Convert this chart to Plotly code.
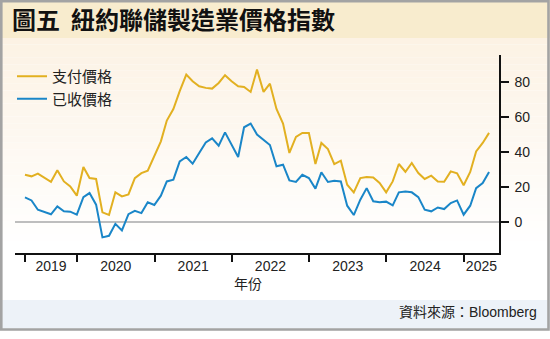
import pandas as pd
import plotly.graph_objects as go

# ---- data: NY Fed manufacturing survey, prices paid / prices received (monthly) ----
months = pd.date_range("2019-04-01", periods=73, freq="MS") + pd.offsets.MonthEnd(0)

prices_paid = [
    27.1, 26.2, 27.7, 25.6, 23.1, 29.6, 23.3, 20.5, 15.2,            # 2019 Apr-Dec
    31.5, 25.2, 24.7, 5.7, 4.2, 17.1, 14.8, 15.9, 25.2, 28.0, 29.4, 37.6,   # 2020
    46.1, 57.9, 64.5, 74.6, 84.1, 80.3, 77.4, 76.5, 76.1, 79.3, 83.7, 80.3, # 2021
    77.4, 77.0, 74.2, 86.9, 74.2, 78.9, 64.5, 56.2, 39.5, 48.6, 50.9, 50.9, # 2022
    33.2, 45.2, 41.7, 33.2, 35.1, 21.4, 17.1, 25.2, 25.8, 25.5, 22.4, 17.1, # 2023
    23.3, 33.2, 28.8, 33.8, 28.1, 24.7, 26.6, 23.3, 23.1, 29.0, 27.9, 21.1, # 2024
    28.7, 40.4, 45.2, 50.9,                                              # 2025 Jan-Apr
]
prices_received = [
    14.2, 12.5, 7.2, 6.1, 4.6, 9.1, 6.3, 6.1, 4.4,
    14.4, 16.7, 10.1, -8.5, -7.6, -0.8, -4.6, 4.7, 6.6, 5.3, 11.4, 9.9,
    15.2, 23.3, 24.3, 34.7, 37.2, 33.4, 39.5, 45.5, 47.8, 43.6, 51.2, 44.2,
    37.2, 54.1, 56.2, 50.0, 47.0, 44.0, 31.9, 32.8, 23.9, 23.0, 27.1, 25.2,
    19.2, 28.5, 23.0, 23.7, 23.3, 9.5, 4.2, 12.9, 19.5, 12.0, 11.4, 11.8,
    9.7, 17.1, 17.6, 17.1, 14.4, 7.2, 6.3, 8.5, 7.6, 11.0, 12.5, 4.4,
    9.5, 19.5, 22.4, 28.7,
]
year_labels = ["2019", "2020", "2021", "2022", "2023", "2024", "2025"]
y_ticks = [0, 20, 40, 60, 80]

series_names = ["支付價格", "已收價格"]
series_colors = ["#E2B021", "#1A86C8"]

# ---- page geometry (pixels) ----
W, H = 550, 339
L, R, T, B = 15, 51, 55, 86


def px_x(x):
    return (x - L) / (W - L - R)


def px_y(y):
    return (H - B - y) / (H - T - B)


x_start = pd.Timestamp("2019-03-14")
x_end = pd.Timestamp("2025-06-16")

# year boundaries get tick marks; year names sit in the middle of each visible span
bounds = [months[0]] + [pd.Timestamp(f"{y}-01-01") for y in range(2020, 2026)]
spans = bounds + [x_end]
label_pos = [spans[i] + (spans[i + 1] - spans[i]) / 2 for i in range(len(year_labels))]

fig = go.Figure()
for name, vals, col in zip(series_names, [prices_paid, prices_received], series_colors):
    fig.add_trace(go.Scatter(
        x=months, y=vals, name=name, mode="lines",
        line=dict(color=col, width=2),
    ))

shapes = []
# soft cream-to-white backdrop behind the plot
top_c, bot_c = (252, 242, 228), (255, 255, 255)
g0, g1, n = 38, 300, 40
for i in range(n):
    ya = g0 + (g1 - g0) * i / n
    yb = g0 + (g1 - g0) * (i + 1) / n
    t = min(1.0, (i + 0.5) / n * 1.25)
    c = tuple(round(top_c[k] + (bot_c[k] - top_c[k]) * t) for k in range(3))
    shapes.append(dict(type="rect", xref="paper", yref="paper", layer="below",
                       x0=px_x(0), x1=px_x(W), y0=px_y(yb), y1=px_y(ya),
                       fillcolor=f"rgb{c}", line=dict(width=0)))
# title band
shapes.append(dict(type="rect", xref="paper", yref="paper", layer="below",
                   x0=px_x(0), x1=px_x(W), y0=px_y(38), y1=px_y(0),
                   fillcolor="#F8ECCE", line=dict(width=0)))
# source strip
shapes.append(dict(type="rect", xref="paper", yref="paper", layer="below",
                   x0=px_x(0), x1=px_x(W), y0=px_y(328.5), y1=px_y(300),
                   fillcolor="#EDF2F8", line=dict(width=0)))
# frame
shapes.append(dict(type="rect", xref="paper", yref="paper", layer="above",
                   x0=px_x(1.3), x1=px_x(548.5), y0=px_y(329.5), y1=px_y(1.3),
                   line=dict(color="#A3A3A3", width=2.6)))

annotations = [
    dict(text="圖五  紐約聯儲製造業價格指數", xref="paper", yref="paper",
         x=px_x(10), y=px_y(18), xanchor="left", yanchor="middle", showarrow=False,
         font=dict(family="Noto Sans CJK TC", size=24, color="#111111", weight="bold")),
    dict(text="年份", xref="paper", yref="paper",
         x=px_x(248), y=px_y(283), xanchor="center", yanchor="middle", showarrow=False,
         font=dict(family="Noto Sans CJK TC", size=14, color="#222222")),
    dict(text="資料來源：Bloomberg", xref="paper", yref="paper",
         x=px_x(539), y=px_y(312), xanchor="right", yanchor="middle", showarrow=False,
         font=dict(family="Liberation Sans, Noto Sans CJK TC", size=14, color="#222222")),
]

fig.update_layout(
    width=W, height=H,
    margin=dict(l=L, r=R, t=T, b=B, pad=0),
    paper_bgcolor="white",
    plot_bgcolor="rgba(0,0,0,0)",
    font=dict(family="Liberation Sans, Noto Sans CJK TC", size=14, color="#222222"),
    shapes=shapes,
    annotations=annotations,
    showlegend=True,
    legend=dict(x=px_x(12), y=px_y(60), xanchor="left", yanchor="top",
                bgcolor="rgba(0,0,0,0)", font=dict(family="Noto Sans CJK TC", size=15, color="#222222"),
                itemwidth=30, tracegroupgap=0),
    xaxis=dict(
        type="date", range=[x_start, x_end],
        tickmode="array", tickvals=label_pos, ticktext=year_labels, ticks="",
        showline=True, linecolor="#111111", linewidth=1.5, showgrid=False, zeroline=False,
        tickfont=dict(size=14, color="#222222"),
        ticklabelstandoff=-1,
        minor=dict(tickmode="array", tickvals=bounds, ticks="outside",
                   ticklen=7, tickwidth=1.5, tickcolor="#111111", showgrid=False),
    ),
    yaxis=dict(
        side="right", range=[-17.4, 95.2],
        tickmode="array", tickvals=y_ticks, ticks="outside", ticklen=8, tickwidth=1.5,
        tickcolor="#111111", showline=True, linecolor="#111111", linewidth=1.5,
        showgrid=False, zeroline=True, zerolinecolor="#BEBEBE", zerolinewidth=1.5,
        ticklabelstandoff=3,
        tickfont=dict(size=14, color="#222222"),
    ),
)

fig.write_html("out.html")
